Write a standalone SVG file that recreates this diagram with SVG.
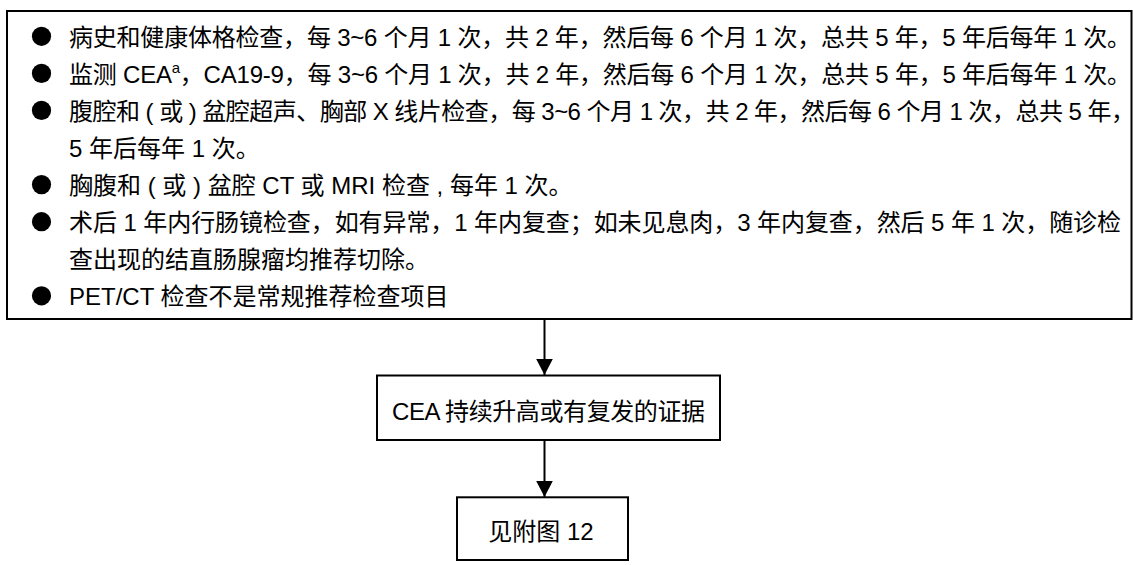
<svg xmlns="http://www.w3.org/2000/svg" width="1133" height="565" viewBox="0 0 1133 565">
<style>
.t{font-family:"Liberation Sans","Noto Sans CJK SC",sans-serif;font-size:24px;fill:#000;}
.box{fill:#fff;stroke:#000;stroke-width:2;}
.con{stroke:#000;stroke-width:2;fill:none;}
.b{fill:#000;}
</style>
<defs>
<marker id="ah" markerUnits="userSpaceOnUse" markerWidth="17" markerHeight="17" refX="16" refY="8.3" orient="auto">
<path d="M0,0 L16,8.3 L0,16.6 z" fill="#000"/>
</marker>
</defs>
<rect x="0" y="0" width="1133" height="565" fill="#fff"/>
<g id="node-followup">
<rect class="box" x="7" y="11" width="1124.5" height="308"/>
<circle class="b" cx="41.5" cy="36.3" r="9.6"/>
<circle class="b" cx="41.5" cy="73.4" r="9.6"/>
<circle class="b" cx="41.5" cy="110.4" r="9.6"/>
<circle class="b" cx="41.5" cy="184.6" r="9.6"/>
<circle class="b" cx="41.5" cy="221.7" r="9.6"/>
<circle class="b" cx="41.5" cy="295.8" r="9.6"/>
<text class="t" x="69" y="45.5" textLength="1062" lengthAdjust="spacing">病史和健康体格检查，每 3~6 个月 1 次，共 2 年，然后每 6 个月 1 次，总共 5 年，5 年后每年 1 次。</text>
<text class="t" x="69" y="82.6" textLength="1062" lengthAdjust="spacing">监测 CEA<tspan font-size="15" dy="-10">a</tspan><tspan dy="10">，CA19-9，每 3~6 个月 1 次，共 2 年，然后每 6 个月 1 次，总共 5 年，5 年后每年 1 次。</tspan></text>
<text class="t" x="69" y="119.6" textLength="1066" lengthAdjust="spacing">腹腔和 ( 或 ) 盆腔超声、胸部 X 线片检查，每 3~6 个月 1 次，共 2 年，然后每 6 个月 1 次，总共 5 年，</text>
<text class="t" x="69" y="156.7">5 年后每年 1 次。</text>
<text class="t" x="69" y="193.8">胸腹和 ( 或 ) 盆腔 CT 或 MRI 检查 , 每年 1 次。</text>
<text class="t" x="69" y="230.9" textLength="1052" lengthAdjust="spacing">术后 1 年内行肠镜检查，如有异常，1 年内复查；如未见息肉，3 年内复查，然后 5 年 1 次，随诊检</text>
<text class="t" x="69" y="267.9">查出现的结直肠腺瘤均推荐切除。</text>
<text class="t" x="69" y="305">PET/CT 检查不是常规推荐检查项目</text>
</g>
<g id="node-cea">
<rect class="box" x="377" y="375.5" width="343" height="64.5"/>
<text class="t" x="392" y="420" textLength="313" lengthAdjust="spacing">CEA 持续升高或有复发的证据</text>
</g>
<g id="node-fig12">
<rect class="box" x="457" y="497.3" width="171" height="62.7"/>
<text class="t" x="541" y="540" text-anchor="middle">见附图 12</text>
</g>
<g id="connectors">
<line class="con" x1="544.5" y1="320" x2="544.5" y2="375" marker-end="url(#ah)"/>
<line class="con" x1="544.5" y1="441" x2="544.5" y2="497" marker-end="url(#ah)"/>
</g>
</svg>
